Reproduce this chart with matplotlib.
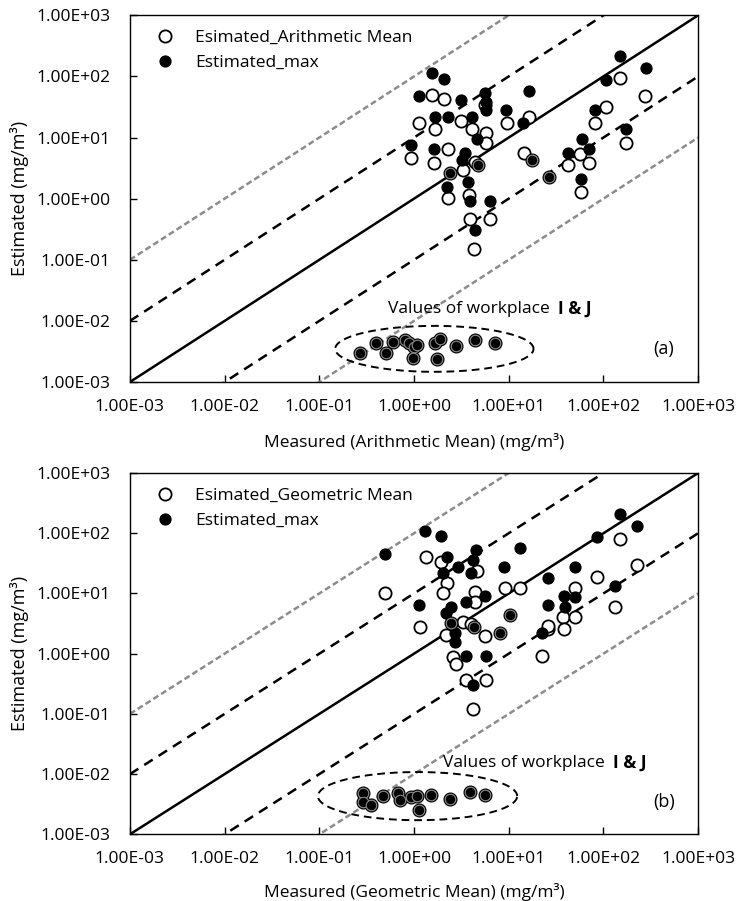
import numpy as np
import matplotlib
matplotlib.use("Agg")
import matplotlib.pyplot as plt
from matplotlib.ticker import FixedLocator, FuncFormatter

plt.rcParams['font.family'] = ['Open Sans', 'DejaVu Sans']

# ---- panel (a): measured arithmetic mean vs estimated ----
a_mean_x = [1.55, 2.05, 1.14, 1.68, 3.16, 4.1, 5.8, 5.8, 5.56, 9.6, 16.2, 0.93, 1.61, 2.26,
            3.29, 4.43, 14.4, 2.27, 3.77, 3.93, 6.3, 4.3, 148, 278, 107, 81, 174, 42, 57, 70, 58]
a_mean_y = [49, 42, 17, 14, 18.5, 14, 11.7, 8.2, 34, 17, 21.8, 4.55, 3.86, 6.6,
            2.93, 4.0, 5.5, 1.01, 1.17, 0.46, 0.46, 0.15, 96, 47, 32, 17, 8.2, 3.5, 5.4, 3.9, 1.3]
a_max_x = [1.55, 2.05, 1.12, 3.16, 5.66, 5.8, 5.8, 16.2, 9.4, 1.68, 2.27, 4.1, 14.2, 0.93,
           1.61, 3.48, 3.2, 4.62, 3.71, 2.22, 3.93, 6.3, 4.43, 148, 283, 107, 81, 174,
           42.4, 60, 70, 58.5]
a_max_y = [114, 92, 47, 41, 54, 38, 28, 58, 28, 22, 21.8, 22, 17.4, 7.5,
           6.4, 5.6, 4.3, 9.3, 1.89, 1.56, 0.92, 0.92, 0.31, 214, 138, 89, 28, 13.6,
           5.6, 9.3, 6.4, 2.07]
# points where mean and max coincide (drawn in both series)
a_same_x = [2.37, 4.73, 17.6, 26.4,
            0.266, 0.4, 0.5, 0.6, 0.8, 0.875, 1.0, 1.07, 0.97, 1.65, 1.86, 1.75, 2.79, 4.43, 7.2]
a_same_y = [2.65, 3.54, 4.3, 2.23,
            0.00303, 0.0044, 0.00303, 0.0046, 0.0048, 0.0044, 0.0038, 0.0041, 0.00245,
            0.0044, 0.0050, 0.00237, 0.0039, 0.0049, 0.0044]

# ---- panel (b): measured geometric mean vs estimated ----
b_mean_x = [1.34, 1.94, 0.49, 2.24, 2.0, 4.67, 4.37, 4.37, 9.1, 13.1, 151, 226, 85, 50, 133,
            37.6, 50, 1.16, 2.19, 3.29, 3.96, 5.67, 26, 26, 38.8, 22.3, 2.58, 2.8, 3.57, 5.82, 4.2]
b_mean_y = [40.7, 33.6, 10.3, 15, 10, 23.8, 10.7, 7.3, 12.2, 12.3, 79, 29.6, 19, 12.3, 6.0,
            4.1, 4.1, 2.74, 2.04, 3.39, 3.1, 1.96, 2.54, 2.9, 2.54, 0.91, 0.87, 0.67, 0.364, 0.364, 0.119]
b_max_x = [1.32, 1.94, 0.49, 4.56, 13.1, 2.24, 4.2, 2.91, 2.0, 4.0, 8.96, 5.67, 3.57, 1.14,
           2.47, 2.19, 151, 226, 85, 50, 26, 38.8, 49.5, 133, 25.8, 39.4, 2.68, 2.68, 3.57,
           5.82, 4.2, 22.3]
b_max_y = [110, 90, 46, 52.6, 57, 40, 36, 27, 22, 22, 27, 9.06, 7.3, 6.4,
           5.9, 4.67, 208, 132, 85.5, 27, 17.8, 9.06, 8.9, 13.3, 6.4, 6.0, 2.2, 1.58, 0.91,
           0.91, 0.30, 2.17]
b_same_x = [10.3, 2.47, 4.3, 8.05,
            0.286, 0.286, 0.35, 0.467, 0.67, 0.71, 0.93, 1.08, 1.12, 1.52, 2.37, 3.87, 5.58]
b_same_y = [4.38, 3.18, 2.8, 2.22,
            0.00478, 0.00347, 0.00305, 0.00431, 0.0049, 0.0037, 0.0041, 0.0044, 0.00252,
            0.0045, 0.0039, 0.0051, 0.0045]

# reference lines y = r * x
ratios_black = [10, 0.1]
ratios_gray = [100, 0.01]
decades = [1e-3, 1e-2, 1e-1, 1e0, 1e1, 1e2, 1e3]

# I & J cluster ellipse (centre, half-width/half-height in decades)
ell_a = (1.64, 0.00349, 1.047, 0.376)
ell_b = (1.09, 0.00431, 1.052, 0.40)

fig = plt.figure(figsize=(7.38, 9.01), dpi=100)
ax_a = fig.add_axes([0.176, 0.576, 0.770, 0.407])
ax_b = fig.add_axes([0.176, 0.074, 0.770, 0.401])


def draw_panel(ax, mx, my, xx, xy, sx, sy, ell, mean_label, xlabel, tag, txt_pos, xlab_y):
    lim = (decades[0], decades[-1])
    xs = np.array(lim)
    ax.plot(xs, xs, color='black', lw=1.8, zorder=2)
    for r in ratios_black:
        ax.plot(xs, r * xs, color='black', lw=1.8, dashes=(4, 2.8), zorder=2)
    for r in ratios_gray:
        ax.plot(xs, r * xs, color='#8c8c8c', lw=1.8, dashes=(2.4, 1.3), zorder=2)

    ax.plot(mx, my, 'o', ls='none', ms=8.8, mfc='white', mec='black', mew=1.3,
            zorder=3, label=mean_label)
    ax.plot(xx, xy, 'o', ls='none', ms=8.0, mfc='black', mec='black', mew=0.8,
            zorder=4, label='Estimated_max')
    # coincident mean/max: open circle with the filled one on top (thin light ring)
    ax.plot(sx, sy, 'o', ls='none', ms=8.8, mfc='white', mec='black', mew=1.3, zorder=5)
    ax.plot(sx, sy, 'o', ls='none', ms=7.6, mfc='black', mec='#8a8a8a', mew=0.8, zorder=6)

    cx, cy, hw, hh = ell
    t = np.linspace(0, 2 * np.pi, 300)
    ax.plot(10 ** (np.log10(cx) + hw * np.cos(t)), 10 ** (np.log10(cy) + hh * np.sin(t)),
            color='black', lw=1.4, dashes=(4, 2.5), zorder=7)

    ax.set_xscale('log')
    ax.set_yscale('log')
    ax.set_xlim(*lim)
    ax.set_ylim(*lim)
    fmt = FuncFormatter(lambda v, p: '{:.2E}'.format(v))
    for axis in (ax.xaxis, ax.yaxis):
        axis.set_major_locator(FixedLocator(decades))
        axis.set_minor_locator(FixedLocator([]))
        axis.set_major_formatter(fmt)
    ax.tick_params(axis='both', direction='in', length=5, width=1, labelsize=12.5)
    ax.tick_params(axis='y', pad=14)
    ax.tick_params(axis='x', pad=12)
    for s in ax.spines.values():
        s.set_linewidth(1.0)

    ax.set_ylabel('Estimated (mg/m³)', fontsize=13)
    ax.set_xlabel(xlabel, fontsize=12.5)
    ax.yaxis.set_label_coords(-0.178, 0.5)
    ax.xaxis.set_label_coords(0.5, xlab_y)

    ax.legend(loc='upper left', frameon=False, fontsize=12.5, handlelength=1.0,
              handletextpad=1.25, borderaxespad=0.45, labelspacing=0.5,
              bbox_to_anchor=(0.02, 1.0))
    ax.text(txt_pos[0], txt_pos[1], 'Values of workplace', transform=ax.transAxes,
            fontsize=12.5, ha='left', va='center')
    ax.text(txt_pos[0] + 0.3, txt_pos[1], 'I & J', transform=ax.transAxes,
            fontsize=12.5, ha='left', va='center', fontweight='bold')
    ax.text(0.94, 0.09, tag, transform=ax.transAxes, fontsize=13, ha='center', va='center')


draw_panel(ax_a, a_mean_x, a_mean_y, a_max_x, a_max_y, a_same_x, a_same_y, ell_a,
           'Esimated_Arithmetic Mean', 'Measured (Arithmetic Mean) (mg/m³)', '(a)',
           (0.454, 0.199), -0.14)
draw_panel(ax_b, b_mean_x, b_mean_y, b_max_x, b_max_y, b_same_x, b_same_y, ell_b,
           'Esimated_Geometric Mean', 'Measured (Geometric Mean) (mg/m³)', '(b)',
           (0.551, 0.197), -0.135)

fig.savefig('out.png', dpi=100)
